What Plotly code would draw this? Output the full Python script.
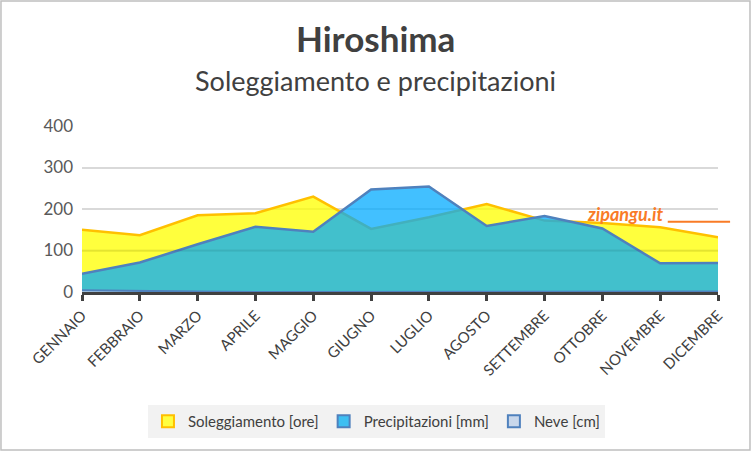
import plotly.graph_objects as go

mesi = ["GENNAIO", "FEBBRAIO", "MARZO", "APRILE", "MAGGIO", "GIUGNO",
        "LUGLIO", "AGOSTO", "SETTEMBRE", "OTTOBRE", "NOVEMBRE", "DICEMBRE"]
sole = [150, 137, 185, 190, 230, 152, 180, 212, 172, 166, 156, 132]
pioggia = [44, 71, 115, 157, 145, 247, 254, 159, 183, 153, 69, 70]
neve = [4, 2, 1, 0, 0, 0, 0, 0, 0, 0, 0, 1]
yticks = [0, 100, 200, 300, 400]

FONT = "Lato"
serie = [
    ("Soleggiamento [ore]", sole, "rgba(255,255,0,0.76)", "#FFC000", 2.5, "#FFFF40"),
    ("Precipitazioni [mm]", pioggia, "rgba(0,170,255,0.74)", "#4F81BD", 2.5, "#3DBFF2"),
    ("Neve [cm]", neve, "rgba(200,215,235,0.9)", "#4F81BD", 2, "#C8D7EB"),
]
fig = go.Figure()
for nome, vals, fc, lc, lw, mc in serie:
    fig.add_trace(go.Scatter(x=mesi, y=vals, name=nome, mode="lines", showlegend=False,
                             fill="tozeroy", fillcolor=fc, line=dict(color=lc, width=lw)))
for nome, vals, fc, lc, lw, mc in serie:
    fig.add_trace(go.Scatter(x=[None], y=[None], name=nome, mode="markers",
                             marker=dict(symbol="square", size=12, color=mc,
                                         line=dict(color=lc, width=2))))

fig.update_layout(
    width=752, height=452,
    margin=dict(l=82, r=34, t=126, b=160),
    paper_bgcolor="white", plot_bgcolor="white",
    font=dict(family=FONT, color="#404040"),
    showlegend=True,
    legend=dict(orientation="h", x=0.463, xanchor="center", y=-0.78, yanchor="middle",
                bgcolor="#F2F2F2", font=dict(size=15, color="#404040"),
                itemwidth=30, tracegroupgap=0),
    xaxis=dict(type="category", range=[0, 11], showgrid=False,
               showline=True, linecolor="#404040", linewidth=3,
               ticks="outside", ticklen=6, tickwidth=3, tickcolor="#404040",
               tickangle=-45, tickfont=dict(size=15, color="#404040")),
    yaxis=dict(range=[0, 400], tickvals=yticks, showgrid=True, gridcolor="#D9D9D9",
               gridwidth=2, zeroline=False, showline=False,
               tickfont=dict(size=17, color="#595959"), ticklabelstandoff=8),
    annotations=[
        dict(text="<b>Hiroshima</b>", xref="paper", yref="paper", x=0.462, y=1.53,
             xanchor="center", yanchor="middle", showarrow=False,
             font=dict(size=35, color="#404040", family=FONT)),
        dict(text="Soleggiamento e precipitazioni", xref="paper", yref="paper",
             x=0.462, y=1.277, xanchor="center", yanchor="middle", showarrow=False,
             font=dict(size=27, color="#404040", family=FONT)),
        dict(text="<b><i>zipangu.it</i></b>", xref="paper", yref="y", x=0.854, y=188,
             xanchor="center", yanchor="middle", showarrow=False,
             font=dict(size=18, color="#F97B26", family=FONT)),
    ],
    shapes=[
        dict(type="line", xref="paper", yref="y", x0=0.921, x1=1.019, y0=169, y1=169,
             line=dict(color="#F97B26", width=2)),
        dict(type="line", xref="paper", yref="y", x0=0, x1=1, y0=200, y1=200,
             line=dict(color="#BFBFBF", width=2), layer="below"),
        dict(type="line", xref="paper", yref="y", x0=0, x1=1, y0=100, y1=100,
             line=dict(color="rgba(0,0,0,0.07)", width=2), layer="above"),
        dict(type="rect", xref="paper", yref="paper", x0=-0.1274, x1=1.0503,
             y0=-0.952, y1=1.753, line=dict(color="#BFBFBF", width=1.5)),
    ],
)
fig.write_html("out.html")
